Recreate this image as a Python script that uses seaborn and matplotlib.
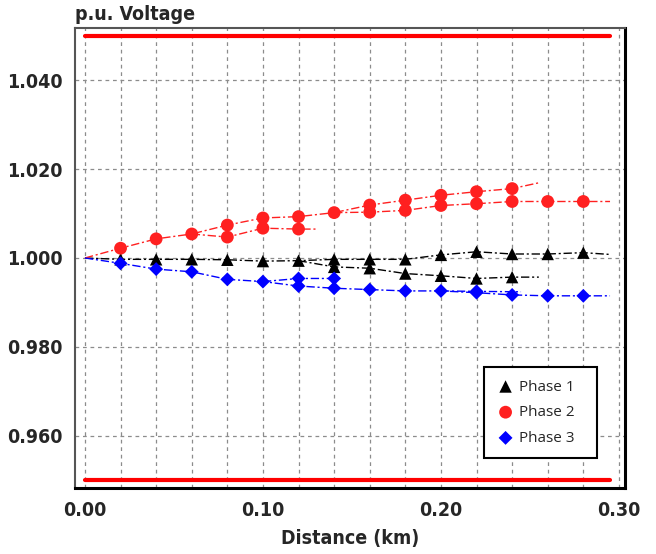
import numpy as np
import pandas as pd
import matplotlib
matplotlib.use("Agg")
import matplotlib.pyplot as plt
import seaborn as sns
from matplotlib import font_manager
from matplotlib.ticker import MultipleLocator, FormatStrFormatter

# voltage profile along the feeder, one list pair per branch
red_main_d = [0.00, 0.02, 0.04, 0.06, 0.08, 0.10, 0.12, 0.14, 0.16, 0.18, 0.20, 0.22, 0.24, 0.255]
red_main_v = [1.0000, 1.0022, 1.0043, 1.0054, 1.0074, 1.0090, 1.0093, 1.0102, 1.0119, 1.0130, 1.0141, 1.0149, 1.0156, 1.0169]
red_b1_d = [0.14, 0.16, 0.18, 0.20, 0.22, 0.24, 0.26, 0.28, 0.295]
red_b1_v = [1.0102, 1.0103, 1.0107, 1.0118, 1.0122, 1.0127, 1.0127, 1.0127, 1.0127]
red_b2_d = [0.06, 0.08, 0.10, 0.12, 0.13]
red_b2_v = [1.0054, 1.0047, 1.0067, 1.0065, 1.0065]

blk_main_d = [0.00, 0.02, 0.04, 0.06, 0.08, 0.10, 0.12, 0.14, 0.16, 0.18, 0.20, 0.22, 0.24, 0.26, 0.28, 0.295]
blk_main_v = [1.0000, 0.9997, 0.9997, 0.9997, 0.9996, 0.9993, 0.9994, 0.9997, 0.9997, 0.9997, 1.0007, 1.0014, 1.0009, 1.0009, 1.0012, 1.0008]
blk_b1_d = [0.12, 0.14, 0.16, 0.18, 0.20, 0.22, 0.24, 0.255]
blk_b1_v = [0.9994, 0.9980, 0.9977, 0.9965, 0.9960, 0.9954, 0.9957, 0.9957]

blu_main_d = [0.00, 0.02, 0.04, 0.06, 0.08, 0.10, 0.12, 0.14, 0.16, 0.18, 0.20, 0.22, 0.24, 0.26, 0.28, 0.295]
blu_main_v = [1.0000, 0.9988, 0.9975, 0.9969, 0.9952, 0.9947, 0.9937, 0.9932, 0.9929, 0.9926, 0.9926, 0.9922, 0.9917, 0.9915, 0.9915, 0.9915]
blu_b1_d = [0.10, 0.12, 0.14]
blu_b1_v = [0.9947, 0.9954, 0.9954]
blu_b2_d = [0.20, 0.22, 0.245]
blu_b2_v = [0.9926, 0.9925, 0.9924]

limit_d = [0.0, 0.295]
upper_lim = [1.05, 1.05]
lower_lim = [0.95, 0.95]

branches = [
    ("Phase 1", "b1", blk_main_d, blk_main_v, True),
    ("Phase 1", "b2", blk_b1_d, blk_b1_v, False),
    ("Phase 2", "r1", red_main_d, red_main_v, True),
    ("Phase 2", "r2", red_b1_d, red_b1_v, False),
    ("Phase 2", "r3", red_b2_d, red_b2_v, False),
    ("Phase 3", "u1", blu_main_d, blu_main_v, True),
    ("Phase 3", "u2", blu_b1_d, blu_b1_v, False),
    ("Phase 3", "u3", blu_b2_d, blu_b2_v, False),
]
rows = []
for phase, br, ds, vs, main in branches:
    for i, (d, v) in enumerate(zip(ds, vs)):
        # nodes sit on the 0.02 grid; start point and line tails have no marker
        node = d > 0 and abs(d / 0.02 - round(d / 0.02)) < 1e-6
        if not main and i == 0:
            node = False
        rows.append(dict(phase=phase, branch=br, distance=d, voltage=v, node=node))
df = pd.DataFrame(rows)

palette = {"Phase 1": "black", "Phase 2": "#ff2020", "Phase 3": "#0000ff"}
markers = {"Phase 1": "^", "Phase 2": "o", "Phase 3": "D"}
sizes = {"Phase 1": 80, "Phase 2": 85, "Phase 3": 50}

sns.set_style("white")

# narrow bold face for the axis texts, like the original software
bold_font = font_manager.FontProperties(family="DejaVu Sans", weight="bold",
                                        stretch="condensed", size=14)

fig = plt.figure(figsize=(6.56, 5.54), dpi=100)
ax = fig.add_axes([0.1143, 0.1191, 0.8384, 0.8304])

ax.plot(limit_d, upper_lim, color="#ff0000", lw=3, solid_capstyle="round", zorder=2)
ax.plot(limit_d, lower_lim, color="#ff0000", lw=3, solid_capstyle="round", zorder=2)

sns.lineplot(data=df, x="distance", y="voltage", hue="phase", units="branch",
             estimator=None, sort=False, palette=palette, legend=False,
             lw=1, linestyle=(0, (6, 2, 1.5, 2)), ax=ax, zorder=3)

nodes = df[df["node"]]
for phase in ["Phase 1", "Phase 2", "Phase 3"]:
    sub = nodes[nodes["phase"] == phase]
    sns.scatterplot(data=sub, x="distance", y="voltage", color=palette[phase],
                    marker=markers[phase], s=sizes[phase], edgecolor="none",
                    label=phase, ax=ax, zorder=4)

ax.set_xlim(-0.0056, 0.3034)
ax.set_ylim(0.9483, 1.0517)
ax.xaxis.set_major_locator(MultipleLocator(0.10))
ax.xaxis.set_minor_locator(MultipleLocator(0.02))
ax.yaxis.set_major_locator(MultipleLocator(0.02))
ax.xaxis.set_major_formatter(FormatStrFormatter("%.2f"))
ax.yaxis.set_major_formatter(FormatStrFormatter("%.3f"))

ax.grid(True, which="both", axis="x", color="#8c8c8c", lw=0.9, linestyle=(0, (3, 3)))
ax.grid(True, which="major", axis="y", color="#8c8c8c", lw=0.9, linestyle=(0, (3, 3)))
ax.set_axisbelow(True)

ax.tick_params(axis="both", which="major", direction="out", length=6, width=1.2,
               color="#333333", pad=3)
ax.tick_params(axis="x", which="minor", direction="out", length=4, width=1, color="#333333")
for lab in ax.get_xticklabels() + ax.get_yticklabels():
    lab.set_fontproperties(bold_font)

for side in ["left", "top"]:
    ax.spines[side].set_color("#555555")
    ax.spines[side].set_linewidth(1.5)
for side in ["right", "bottom"]:
    ax.spines[side].set_color("black")
    ax.spines[side].set_linewidth(2.2)

ax.set_xlabel("Distance (km)", fontproperties=bold_font, labelpad=7)
ax.set_ylabel("")
ax.text(0.0, 1.008, "p.u. Voltage", transform=ax.transAxes, ha="left", va="bottom",
        fontproperties=bold_font)

leg = ax.legend(loc="lower left", bbox_to_anchor=(0.744, 0.065, 0.205, 0.196),
                mode="expand", frameon=True, fancybox=False, edgecolor="black",
                framealpha=1, prop={"family": "Open Sans", "size": 11},
                handletextpad=0.3, borderpad=0.8, labelspacing=0.7,
                handlelength=1.2, borderaxespad=0)
leg.get_frame().set_linewidth(1.5)

fig.savefig("out.png", dpi=100)
